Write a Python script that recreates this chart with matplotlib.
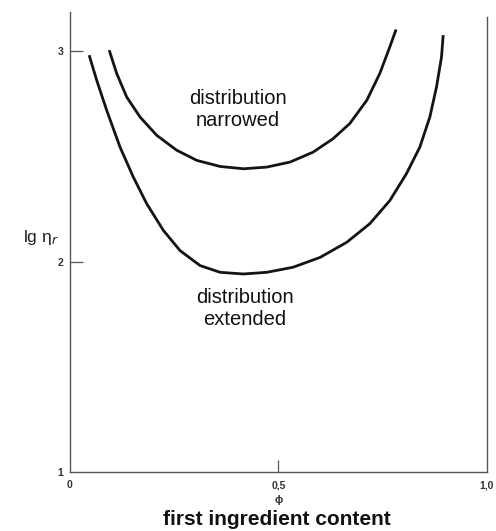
import matplotlib.pyplot as plt

plt.rcParams["font.family"] = ["Liberation Sans", "DejaVu Sans"]

# --- Curve data: volume fraction phi vs. lg of relative viscosity ---
phi_extended = [0.046, 0.064, 0.088, 0.120, 0.152, 0.184, 0.224, 0.264, 0.312,
                0.360, 0.416, 0.472, 0.535, 0.600, 0.664, 0.719, 0.767, 0.807,
                0.839, 0.863, 0.879, 0.891, 0.895]
lg_eta_extended = [2.981, 2.862, 2.719, 2.544, 2.401, 2.275, 2.148, 2.052, 1.981,
                   1.949, 1.941, 1.949, 1.973, 2.020, 2.092, 2.180, 2.290, 2.418,
                   2.544, 2.687, 2.830, 2.973, 3.076]

phi_narrowed = [0.094, 0.112, 0.136, 0.168, 0.208, 0.256, 0.304, 0.360, 0.416,
                0.472, 0.528, 0.583, 0.631, 0.671, 0.712, 0.743, 0.767, 0.782]
lg_eta_narrowed = [3.005, 2.894, 2.782, 2.687, 2.600, 2.529, 2.481, 2.452, 2.441,
                   2.449, 2.473, 2.520, 2.584, 2.656, 2.767, 2.894, 3.020, 3.103]

x_ticks = [0.0, 0.5, 1.0]
x_tick_labels = ["0", "0,5", "1,0"]
y_ticks = [1, 2, 3]
y_tick_labels = ["1", "2", "3"]

# --- Figure ---
fig = plt.figure(figsize=(4.96, 5.31), dpi=100)
ax = fig.add_axes([0.1411, 0.1111, 0.8407, 0.8663])

line_kw = dict(color="#141414", lw=2.0, solid_capstyle="butt",
               solid_joinstyle="round")
ax.plot(phi_narrowed, lg_eta_narrowed, **line_kw)
ax.plot(phi_extended, lg_eta_extended, **line_kw)

ax.set_xlim(0, 1.0)
ax.set_ylim(1, 3.186)

# frame: open top, right line a bit shorter than the left one
axis_color = "#555555"
for side in ("left", "bottom", "right"):
    ax.spines[side].set_color(axis_color)
    ax.spines[side].set_linewidth(1.0)
ax.spines["top"].set_visible(False)
ax.spines["right"].set_bounds(1, 3.162)

ax.set_xticks(x_ticks, x_tick_labels)
ax.set_yticks(y_ticks, y_tick_labels)
ax.tick_params(axis="both", direction="in", color=axis_color, width=0.9,
               labelsize=7.5, labelcolor="#333333")
ax.tick_params(axis="y", length=9.5, pad=5)
ax.tick_params(axis="x", length=9, pad=6)
for lbl in ax.get_xticklabels() + ax.get_yticklabels():
    lbl.set_fontweight("bold")

# no tick marks at the origin or at phi = 1
ax.yaxis.get_major_ticks()[0].tick1line.set_visible(False)
ax.xaxis.get_major_ticks()[0].tick1line.set_visible(False)
ax.xaxis.get_major_ticks()[2].tick1line.set_visible(False)

# --- Labels ---
ax.text(-0.07, 2.114, r"lg $\mathregular{\eta_{\it r}}$",
        fontsize=12.5, ha="center", va="center", color="#222222", clip_on=False)
ax.text(0.5, -0.061, "ϕ", fontsize=8, fontweight="bold", color="#333333",
        ha="center", va="center", transform=ax.get_xaxis_transform(),
        clip_on=False)
fig.text(0.5575, 0.022, "first ingredient content", fontsize=15,
         fontweight="bold", ha="center", va="center", color="#111111")

ax.text(0.403, 2.724, "distribution\nnarrowed", fontsize=14.5, ha="center",
        va="center", color="#111111", linespacing=1.2)
ax.text(0.42, 1.776, "distribution\nextended", fontsize=14.5, ha="center",
        va="center", color="#111111", linespacing=1.2)

fig.savefig("out.png", dpi=100)
